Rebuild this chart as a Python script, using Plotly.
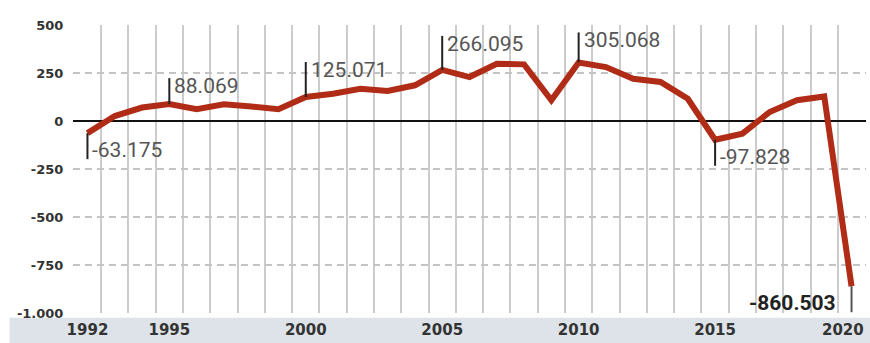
import plotly.graph_objects as go

years = list(range(1992, 2021))
values = [-63.175, 26, 70, 88.069, 61, 87, 76, 61, 125.071, 142, 168, 156, 186,
          266.095, 229, 298, 295, 108, 305.068, 281, 220, 203, 116, -97.828,
          -66, 47, 108, 128, -860.503]

label_years = [1992, 1995, 2000, 2005, 2010, 2015]
label_texts = ["-63.175", "88.069", "125.071", "266.095", "305.068", "-97.828"]
final_year = 2020
final_text = "-860.503"

x_tick_vals = [1992, 1995, 2000, 2005, 2010, 2015]
x_tick_text = ["1992", "1995", "2000", "2005", "2010", "2015"]
last_tick_text = "2020"
y_tick_vals = [500, 250, 0, -250, -500, -750, -1000]
y_tick_text = ["500", "250", "0", "-250", "-500", "-750", "-1.000"]

val_of = dict(zip(years, values))

fig = go.Figure()
fig.add_trace(go.Scatter(x=years, y=values, mode="lines",
                         line=dict(color="#b12c17", width=6, shape="linear"),
                         hoverinfo="skip", showlegend=False, cliponaxis=False))

shapes = [
    dict(type="rect", xref="paper", yref="paper", x0=-0.08, x1=1.01, y0=-0.104, y1=-0.0165,
         fillcolor="#dde3e8", line=dict(width=0), layer="below"),
]
annotations = []
for yr, txt in zip(label_years, label_texts):
    v = val_of[yr]
    up = v > 0
    length = {1995: 26, 2000: 35, 2005: 34, 2010: 30}.get(yr, 26)
    shapes.append(dict(type="line", xref="x", yref="y", ysizemode="pixel", yanchor=v,
                       x0=yr, x1=yr, y0=0, y1=(length if up else -length),
                       line=dict(color="#222222", width=2)))
    annotations.append(dict(x=yr, y=v, xref="x", yref="y", text=txt, showarrow=False,
                            xanchor="left", yanchor="middle", xshift=3,
                            yshift=(length - 8 if up else -(length - 9)),
                            font=dict(family="Roboto", size=21, color="#555555")))

vf = val_of[final_year]
shapes.append(dict(type="line", xref="x", yref="y", ysizemode="pixel", yanchor=vf,
                   x0=final_year, x1=final_year, y0=0, y1=-26,
                   line=dict(color="#555555", width=2)))
annotations.append(dict(x=final_year, y=vf, xref="x", yref="y", text="<b>" + final_text + "</b>",
                        showarrow=False, xanchor="right", yanchor="middle", xshift=-14, yshift=-17,
                        font=dict(family="Roboto", size=21, color="#222222")))
# last x label kept inside the page edge
annotations.append(dict(x=final_year, y=0, xref="x", yref="paper", text=last_tick_text,
                        showarrow=False, xanchor="right", yanchor="top", xshift=14, yshift=-6,
                        font=dict(family="DejaVu Sans", size=15, color="#333333", weight="bold")))

fig.update_layout(
    width=870, height=343,
    margin=dict(l=73, r=4, t=25, b=30),
    paper_bgcolor="white", plot_bgcolor="white",
    shapes=shapes, annotations=annotations,
    xaxis=dict(range=[1991.47, 2020.53], tickvals=x_tick_vals, ticktext=x_tick_text,
               automargin=False, ticklabeloverflow="allow",
               showgrid=False, zeroline=False, showline=False,
               ticks="outside", ticklen=3, tickcolor="rgba(0,0,0,0)",
               tickfont=dict(family="DejaVu Sans", size=15, color="#333333", weight="bold"),
               minor=dict(tick0=1991.5, dtick=1, showgrid=True, gridcolor="#cccccc", gridwidth=2,
                          ticks="")),
    yaxis=dict(range=[-1000, 500], tickvals=y_tick_vals, ticktext=y_tick_text,
               automargin=False,
               showgrid=True, gridcolor="#c4c4c4", gridwidth=1.5, griddash="7px,5px",
               zeroline=True, zerolinecolor="#111111", zerolinewidth=2,
               showline=False, ticks="outside", ticklen=6, tickcolor="rgba(0,0,0,0)",
               tickfont=dict(family="DejaVu Sans", size=13, color="#333333", weight="bold")),
)

fig.write_html("out.html", config={"displayModeBar": False},
               post_script="document.body.style.margin='0';document.body.style.overflow='hidden';")
